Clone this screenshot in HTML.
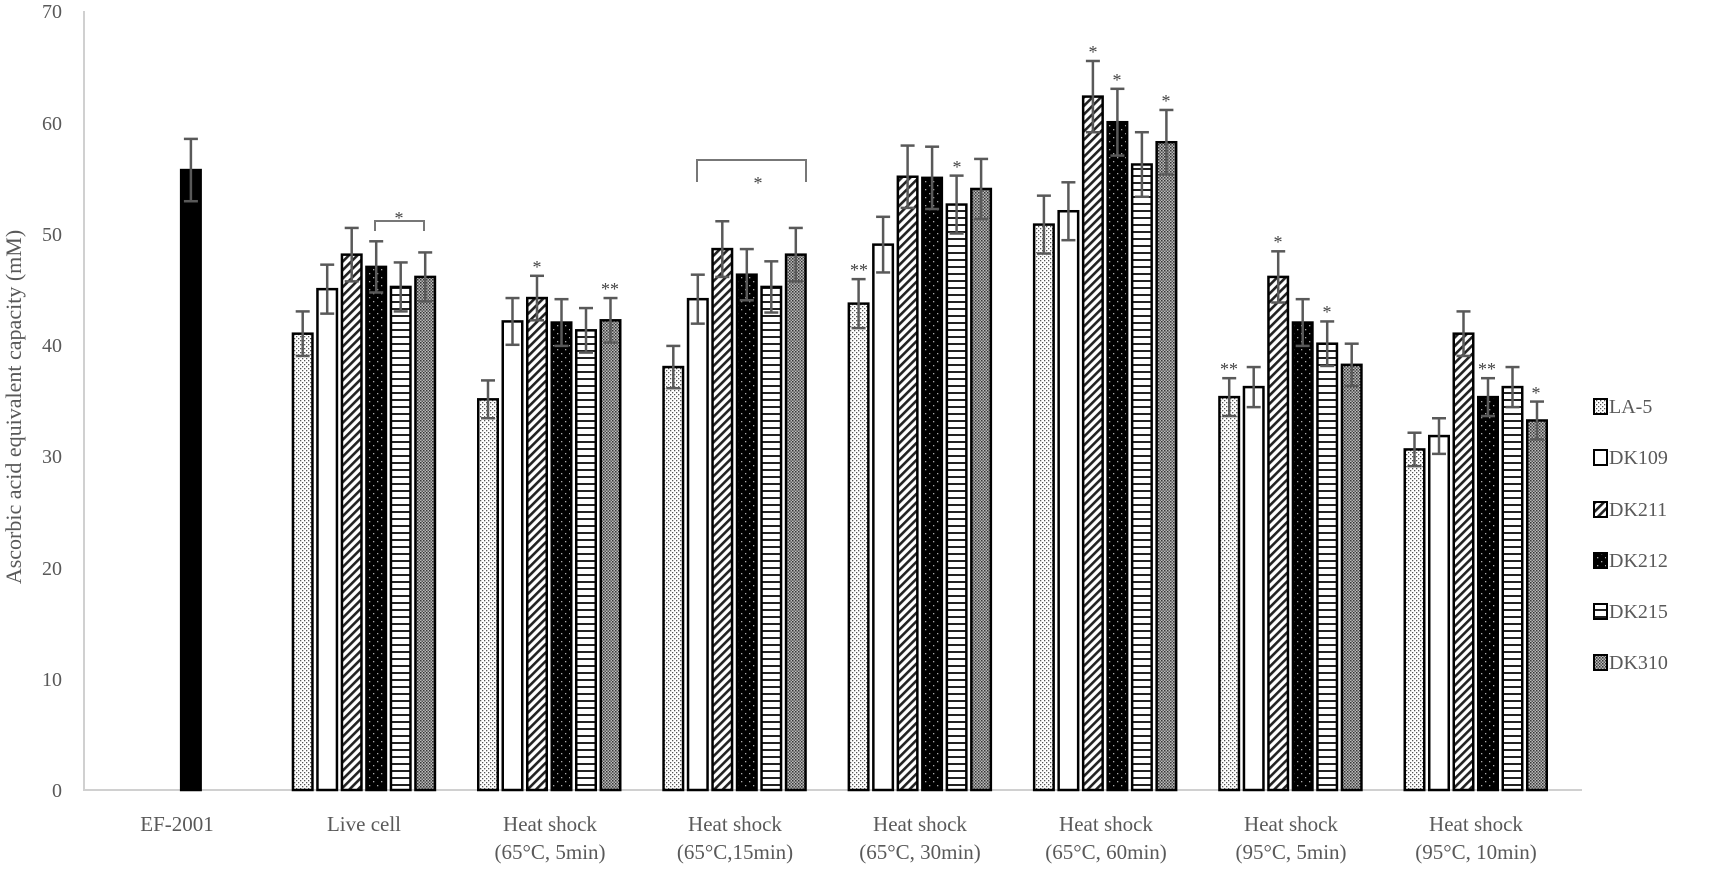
<!DOCTYPE html>
<html><head><meta charset="utf-8"><style>
html,body{margin:0;padding:0;background:#fff;}
svg{display:block;}
text{font-family:"Liberation Serif",serif;}
</style></head><body>
<svg id="s" width="1723" height="873" xmlns="http://www.w3.org/2000/svg">
<defs>
<pattern id="p0" width="4" height="4" patternUnits="userSpaceOnUse"><rect width="4" height="4" fill="#fff"/><rect x="0" y="0" width="1.3" height="1.3" fill="#555"/><rect x="2" y="2" width="1.3" height="1.3" fill="#555"/></pattern>
<pattern id="p2" width="6" height="6" patternUnits="userSpaceOnUse" patternTransform="rotate(45)"><rect width="6" height="6" fill="#fff"/><rect width="2.6" height="6" fill="#222"/></pattern>
<pattern id="p3" width="8" height="8" patternUnits="userSpaceOnUse"><rect width="8" height="8" fill="#000"/><rect x="1" y="1" width="1.3" height="1.3" fill="#aaa"/><rect x="5" y="5" width="1.3" height="1.3" fill="#aaa"/></pattern>
<pattern id="p4" width="6" height="7" patternUnits="userSpaceOnUse"><rect width="6" height="7" fill="#fff"/><rect y="0" width="6" height="2" fill="#222"/></pattern>
<pattern id="p5" width="3" height="3" patternUnits="userSpaceOnUse"><rect width="3" height="3" fill="#bbb"/><rect width="1.5" height="1.5" fill="#333"/><rect x="1.5" y="1.5" width="1.5" height="1.5" fill="#555"/></pattern>
</defs>
<g stroke="#d0d0d0" stroke-width="2"><line x1="84" y1="11" x2="84" y2="791"/><line x1="84" y1="790" x2="1582" y2="790"/></g>
<g font-size="20" fill="#595959" text-anchor="end">
<text x="62" y="797">0</text><text x="62" y="686">10</text><text x="62" y="575">20</text><text x="62" y="463">30</text><text x="62" y="352">40</text><text x="62" y="241">50</text><text x="62" y="130">60</text><text x="62" y="18">70</text>
</g>
<text transform="translate(21,407) rotate(-90)" font-size="22" fill="#595959" text-anchor="middle">Ascorbic acid equivalent capacity (mM)</text>
<g id="bars"></g>
<g font-size="21" fill="#595959" text-anchor="middle">
<text x="177" y="831">EF-2001</text>
<text x="364" y="831">Live cell</text>
<text x="550" y="831">Heat shock</text><text x="550" y="859">(65°C, 5min)</text>
<text x="735" y="831">Heat shock</text><text x="735" y="859">(65°C,15min)</text>
<text x="920" y="831">Heat shock</text><text x="920" y="859">(65°C, 30min)</text>
<text x="1106" y="831">Heat shock</text><text x="1106" y="859">(65°C, 60min)</text>
<text x="1291" y="831">Heat shock</text><text x="1291" y="859">(95°C, 5min)</text>
<text x="1476" y="831">Heat shock</text><text x="1476" y="859">(95°C, 10min)</text>
</g>
<g font-size="20" fill="#595959">
<rect x="1594" y="399" width="13" height="15" fill="url(#p0)" stroke="#000" stroke-width="2"/><text x="1609" y="413">LA-5</text>
<rect x="1594" y="450" width="13" height="15" fill="#fff" stroke="#000" stroke-width="2"/><text x="1609" y="464">DK109</text>
<rect x="1594" y="502" width="13" height="15" fill="url(#p2)" stroke="#000" stroke-width="2"/><text x="1609" y="516">DK211</text>
<rect x="1594" y="553" width="13" height="15" fill="url(#p3)" stroke="#000" stroke-width="2"/><text x="1609" y="567">DK212</text>
<rect x="1594" y="604" width="13" height="15" fill="url(#p4)" stroke="#000" stroke-width="2"/><text x="1609" y="618">DK215</text>
<rect x="1594" y="655" width="13" height="15" fill="url(#p5)" stroke="#000" stroke-width="2"/><text x="1609" y="669">DK310</text>
</g>
<g font-size="18" fill="#444" text-anchor="middle">
<text x="399" y="224">*</text>
<text x="537" y="273">*</text><text x="610" y="295">**</text>
<text x="758" y="189">*</text>
<text x="859" y="276">**</text><text x="957" y="173">*</text>
<text x="1093" y="58">*</text><text x="1117" y="86">*</text><text x="1166" y="107">*</text>
<text x="1229" y="375">**</text><text x="1278" y="248">*</text><text x="1327" y="318">*</text>
<text x="1487" y="375">**</text><text x="1536" y="399">*</text>
</g>
<g stroke="#777" stroke-width="2" fill="none">
<polyline points="375,231 375,221 424,221 424,231"/>
<polyline points="697,182 697,160 806,160 806,182"/>
</g>
</svg>
<script>
var data=[[null,null,null,[55.7,2.8],null,null],
[[41,2],[45,2.2],[48.1,2.4],[47,2.3],[45.2,2.2],[46.1,2.2]],
[[35.1,1.7],[42.1,2.1],[44.2,2],[42,2.1],[41.3,2],[42.2,2]],
[[38,1.9],[44.1,2.2],[48.6,2.5],[46.3,2.3],[45.2,2.3],[48.1,2.4]],
[[43.7,2.2],[49,2.5],[55.1,2.8],[55,2.8],[52.6,2.6],[54,2.7]],
[[50.8,2.6],[52,2.6],[62.3,3.2],[60,3],[56.2,2.9],[58.2,2.9]],
[[35.3,1.7],[36.2,1.8],[46.1,2.3],[42,2.1],[40.1,2],[38.2,1.9]],
[[30.6,1.5],[31.8,1.6],[41,2],[35.3,1.7],[36.2,1.8],[33.2,1.7]]];
var fills=["url(#p0)","#fff","url(#p2)","url(#p3)","url(#p4)","url(#p5)"];
function y(v){return 790-v*11.13;}
var h="";
data.forEach(function(g,k){var c=178.7+k*185.3;g.forEach(function(d,i){if(!d)return;
var x=c-72.3+i*24.5, w=22, top=y(d[0]);
var f=(k==0)?"#000":fills[i];
h+='<rect x="'+(x+1.25)+'" y="'+top+'" width="'+(w-2.5)+'" height="'+(790-top)+'" fill="'+f+'" stroke="#000" stroke-width="2.5"/>';
var cx=x+w/2,a=y(d[0]+d[1]),b=y(d[0]-d[1]);
h+='<g stroke="#595959" stroke-width="2.5"><line x1="'+cx+'" y1="'+a+'" x2="'+cx+'" y2="'+b+'"/><line x1="'+(cx-7)+'" y1="'+a+'" x2="'+(cx+7)+'" y2="'+a+'"/><line x1="'+(cx-7)+'" y1="'+b+'" x2="'+(cx+7)+'" y2="'+b+'"/></g>';
});});
document.getElementById("bars").innerHTML=h;
</script>
</body></html>
